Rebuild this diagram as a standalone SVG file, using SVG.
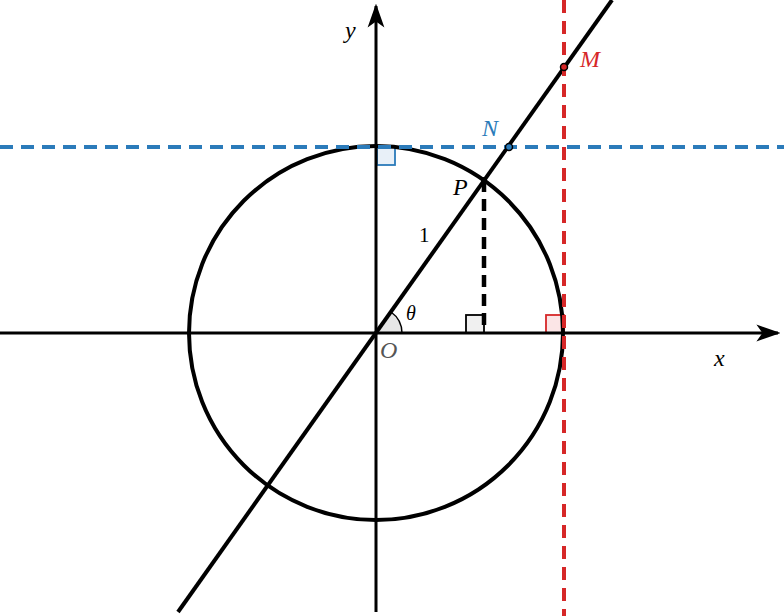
<svg xmlns="http://www.w3.org/2000/svg" width="784" height="616" viewBox="0 0 784 616">
<style>
.ax{stroke:#000;fill:none}
.t{font-family:"Liberation Serif",serif;font-style:italic;font-size:24px}
.sq{stroke-width:1.8}
</style>
<defs>
<marker id="a2" viewBox="0 0 10 10" refX="9" refY="5" markerWidth="8" markerHeight="8" orient="auto"><path d="M0,1.5 L10,5 L0,8.5 L2.5,5z" fill="#000"/></marker></defs>
<g id="squares">
<rect x="466" y="315" width="18" height="18" fill="#f0f0f0" stroke="#000" class="sq"/>
<rect x="546" y="315" width="18" height="18" fill="#fbe5e6" stroke="#d62728" class="sq"/>
<rect x="377" y="147" width="18" height="18" fill="#e8f0f8" stroke="#2b7bba" class="sq"/>
<path d="M376,333 L402,333 A26,26 0 0 0 391,312 Z" fill="#e6e6e6" stroke="#000" stroke-width="1.5"/>
</g>
<g id="connectors">
<line x1="0" y1="333" x2="778" y2="333" class="ax" stroke-width="3" marker-end="url(#a2)"/>
<line x1="376" y1="612" x2="376" y2="6" class="ax" stroke-width="3" marker-end="url(#a2)"/>
<circle cx="376" cy="333" r="187" class="ax" stroke-width="4"/>
<line x1="178" y1="612" x2="612" y2="0" class="ax" stroke-width="4"/>
<line x1="484" y1="180" x2="484" y2="330" stroke="#000" stroke-width="4.5" stroke-dasharray="12,7"/>
<line x1="0" y1="147" x2="784" y2="147" stroke="#2b7bba" stroke-width="4" stroke-dasharray="13,8"/>
<line x1="564" y1="0" x2="564" y2="616" stroke="#d62728" stroke-width="4" stroke-dasharray="13,8"/>
</g>
<g id="points">
<circle cx="484" cy="180" r="3" fill="#000"/>
<circle cx="509" cy="147" r="3.5" fill="#2b7bba" stroke="#000" stroke-width="1.5"/>
<circle cx="564" cy="67" r="3.5" fill="#d62728" stroke="#000" stroke-width="1.5"/>
</g>
<g id="labels">
<text x="345" y="38" class="t">y</text>
<text x="714" y="366" class="t">x</text>
<text x="380" y="358" class="t" fill="#555">O</text>
<text x="406" y="320" class="t" style="font-size:20px">θ</text>
<text x="453" y="195" class="t">P</text>
<text x="419" y="242" class="t" style="font-style:normal;font-size:21px">1</text>
<text x="482" y="136" class="t" fill="#2b7bba">N</text>
<text x="580" y="67" class="t" fill="#d62728">M</text>
</g>
</svg>
